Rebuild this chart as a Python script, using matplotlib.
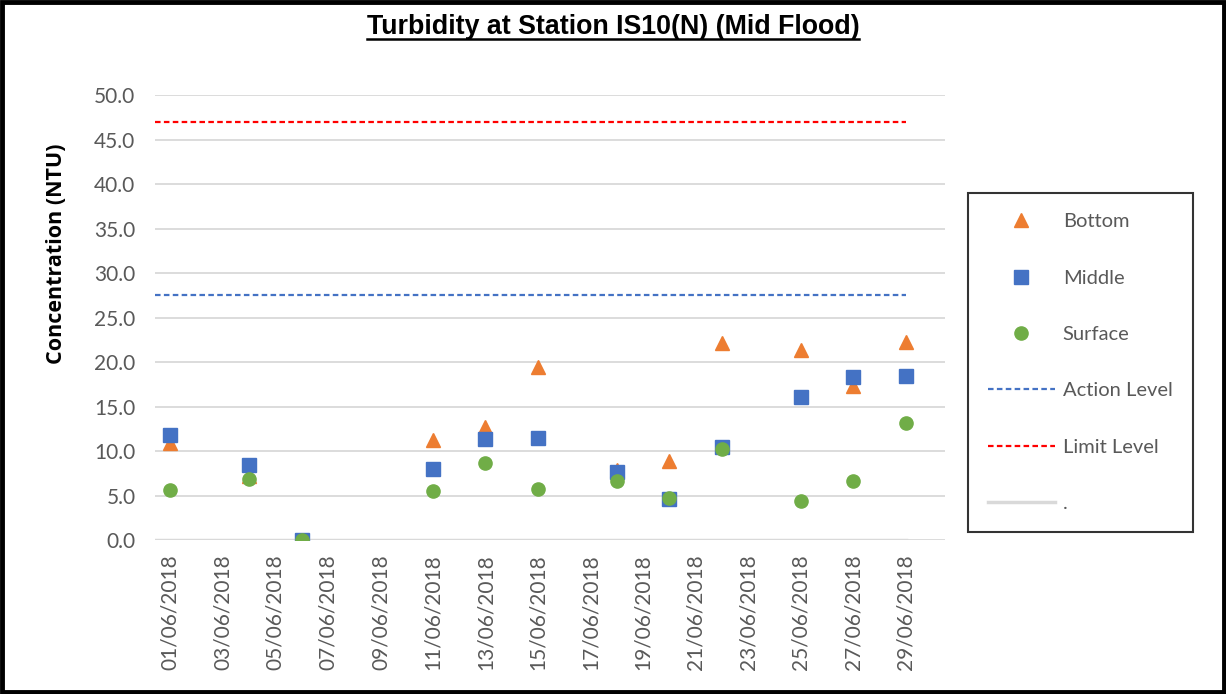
import numpy as np
import matplotlib.pyplot as plt
import matplotlib.dates as mdates
from matplotlib.lines import Line2D
from matplotlib.patches import Rectangle
import datetime as dt

# Datos (NTU)
fechas = ["01/06/2018", "04/06/2018", "06/06/2018", "11/06/2018", "13/06/2018", "15/06/2018",
          "18/06/2018", "20/06/2018", "22/06/2018", "25/06/2018", "27/06/2018", "29/06/2018"]
bottom = [10.9, 7.2, 0.0, 11.2, 12.7, 19.4, 7.9, 8.9, 22.1, 21.3, 17.3, 22.2]
middle = [11.8, 8.4, 0.0, 8.0, 11.3, 11.5, 7.6, 4.6, 10.5, 16.1, 18.3, 18.4]
surface = [5.6, 6.9, 0.0, 5.5, 8.7, 5.7, 6.6, 4.7, 10.2, 4.4, 6.6, 13.2]
action_level = 27.5
limit_level = 47.0

x = [dt.datetime.strptime(f, "%d/%m/%Y") for f in fechas]
gris = "#595959"

fig = plt.figure(figsize=(12.26, 6.94), dpi=100)
ax = fig.add_axes([0.1264, 0.2219, 0.6444, 0.6412])

x0 = x[0] - dt.timedelta(hours=14)
x1 = dt.datetime(2018, 6, 30, 12)
ax.set_xlim(x0, x1)
ax.set_ylim(0, 50)

# Lineas de nivel
ax.plot([x0, x[-1]], [action_level] * 2, ls=(0, (2.5, 1.5)), color="#4472C4", lw=1.6, label="Action Level", zorder=2)
ax.plot([x0, x[-1]], [limit_level] * 2, ls=(0, (2.5, 1.5)), color="#FF0000", lw=1.6, label="Limit Level", zorder=2)
ax.plot([x0, x[-1]], [0, 0], color="#D9D9D9", lw=2.5, label=".", zorder=1.5)

# Series
ax.plot(x, bottom, "^", color="#ED7D31", ms=10, ls="none", label="Bottom", zorder=3)
ax.plot(x, middle, "s", color="#4472C4", ms=9.5, ls="none", label="Middle", zorder=4)
ax.plot(x, surface, "o", color="#70AD47", ms=9.5, ls="none", label="Surface", zorder=5)

ax.set_yticks(np.arange(0, 50.1, 5))
ax.yaxis.set_major_formatter(plt.FormatStrFormatter("%.1f"))
ax.xaxis.set_major_locator(mdates.DayLocator(bymonthday=range(1, 31, 2)))
ax.xaxis.set_major_formatter(mdates.DateFormatter("%d/%m/%Y"))
plt.setp(ax.get_xticklabels(), rotation=90)
ax.tick_params(length=0, labelsize=15, labelcolor=gris, pad=10)
ax.tick_params(axis="y", pad=14)
for lab in ax.get_xticklabels() + ax.get_yticklabels():
    lab.set_family("Lato")
ax.grid(axis="y", color="#D9D9D9", lw=1.3)
ax.set_axisbelow(True)
for s in ax.spines.values():
    s.set_visible(False)

ax.set_ylabel("Concentration (NTU)", fontsize=15.5, fontweight="bold", family="Open Sans")
ax.yaxis.set_label_coords(-0.111, 0.643)

# Leyenda
h, l = ax.get_legend_handles_labels()
orden = ["Bottom", "Middle", "Surface", "Action Level", "Limit Level", "."]
hh = [h[l.index(o)] for o in orden]
leg = fig.legend(hh, orden, loc="upper left", bbox_to_anchor=(0.7896, 0.7219), frameon=True,
                 fancybox=False, edgecolor="black", labelspacing=1.95,
                 handlelength=3.3, borderpad=1.0, handletextpad=0.4, borderaxespad=0,
                 prop={"family": "Lato", "size": 14.5})
leg.get_frame().set_linewidth(1.5)
for t in leg.get_texts():
    t.set_color(gris)

# Titulo subrayado
tit = fig.text(0.5, 0.951, "Turbidity at Station IS10(N) (Mid Flood)", ha="center", va="baseline",
               fontsize=19.3, fontweight="bold", family="Liberation Sans")
fig.canvas.draw()
bb = tit.get_window_extent().transformed(fig.transFigure.inverted())
fig.add_artist(Line2D([bb.x0, bb.x1], [bb.y0 + 0.001, bb.y0 + 0.001], color="black", lw=1.8))

# Marco exterior
fig.add_artist(Rectangle((0.002, 0.003), 0.996, 0.994, transform=fig.transFigure, fill=False,
                         edgecolor="black", lw=3.5))

fig.savefig("out.png", dpi=100)
